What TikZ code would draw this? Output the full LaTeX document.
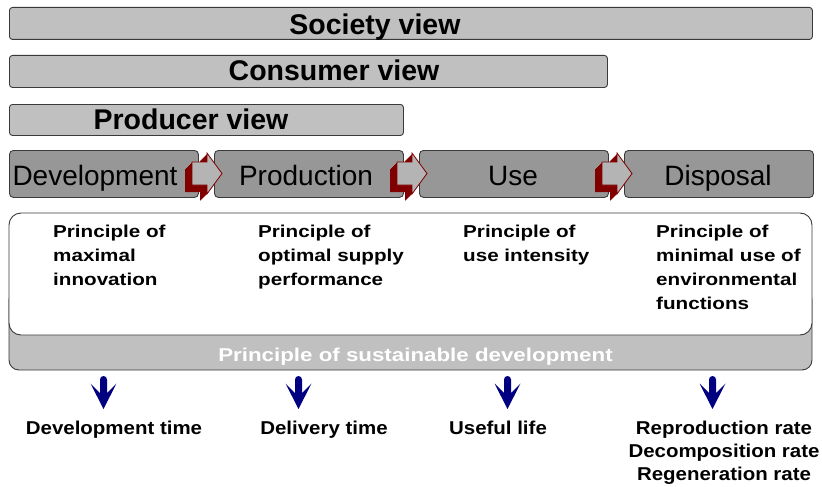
\documentclass[tikz,border=0pt]{standalone}
\usepackage{fontspec}
\setmainfont{Liberation Sans}
\newfontfamily\widefont[FakeStretch=1.2]{Liberation Sans}
\newfontfamily\semiwidefont[FakeStretch=1.1]{Liberation Sans}
\definecolor{viewgray}{HTML}{C0C0C0}
\definecolor{phasegray}{HTML}{979797}
\definecolor{arrowface}{HTML}{B4B4B4}
\definecolor{outl}{HTML}{3A3A3A}
\definecolor{dred}{HTML}{800000}
\definecolor{navyb}{HTML}{000080}
\tikzset{
  viewbox/.style={draw=outl, fill=viewgray, rounded corners=3pt, line width=0.9pt, anchor=north west, inner sep=0pt},
  phasebox/.style={draw=outl, fill=phasegray, rounded corners=4pt, line width=0.9pt, anchor=north west, inner sep=0pt},
  viewtext/.style={anchor=base, inner sep=0pt, font=\fontsize{28.5}{34}\selectfont\bfseries},
  phasetext/.style={anchor=base, inner sep=0pt, font=\fontsize{28}{34}\selectfont},
  principle/.style={anchor=north west, inner sep=0pt, align=left, font=\widefont\fontsize{17.2}{24}\selectfont\bfseries},
  bandtext/.style={anchor=base, inner sep=0pt, text=white, font=\widefont\fontsize{18.6}{24}\selectfont\bfseries},
  measure/.style={anchor=north, inner sep=0pt, align=center, font=\semiwidefont\fontsize{18.6}{23}\selectfont\bfseries},
}
\begin{document}
\begin{tikzpicture}[x=1pt,y=-1pt]
\useasboundingbox (0,0) rectangle (822,487);

% view bars
\node[viewbox, minimum width=803pt, minimum height=32pt] (society) at (9,7) {};
\node[viewbox, minimum width=598pt, minimum height=32pt] (consumer) at (9,55) {};
\node[viewbox, minimum width=394pt, minimum height=31pt] (producer) at (9,104) {};
\node[viewtext] (societyt) at (375,35) {Society view};
\node[viewtext] (consumert) at (334,81) {Consumer view};
\node[viewtext] (producert) at (191,129) {Producer view};

% phase boxes
\node[phasebox, minimum width=189pt, minimum height=47pt] (dev) at (9,150) {};
\node[phasebox, minimum width=189pt, minimum height=47pt] (prod) at (214,150) {};
\node[phasebox, minimum width=189pt, minimum height=47pt] (use) at (419,150) {};
\node[phasebox, minimum width=189pt, minimum height=47pt] (disp) at (624,150) {};
\node[phasetext] (devt) at (95,185) {Development};
\node[phasetext] (prodt) at (306,185) {Production};
\node[phasetext] (uset) at (513,185) {Use};
\node[phasetext] (dispt) at (718,185) {Disposal};

% 3D block arrows
\foreach \xo in {192,397,602}{
  \foreach \s in {1,...,7}{
    \fill[dred] ({\xo-\s},{162+\s}) -- ({\xo+15-\s},{162+\s}) -- ({\xo+15-\s},{153+\s})
      -- ({\xo+30-\s},{173.5+\s}) -- ({\xo+15-\s},{194+\s}) -- ({\xo+15-\s},{185+\s})
      -- ({\xo-\s},{185+\s}) -- cycle;
  }
  \filldraw[fill=arrowface, draw=dred, line width=0.8pt, line join=miter]
    (\xo,162) -- ({\xo+15},162) -- ({\xo+15},153) -- ({\xo+30},173.5) -- ({\xo+15},194) -- ({\xo+15},185) -- (\xo,185) -- cycle;
}

% principle area
\draw[draw=outl, fill=viewgray, line width=0.9pt, rounded corners=10pt] (9,290) rectangle (812,370);
\draw[draw=outl, fill=white, line width=0.9pt, rounded corners=12pt] (9,213) rectangle (812,335);
\node[principle] (p1) at (53,225) {Principle of\\maximal\\innovation};
\node[principle] (p2) at (258,225) {Principle of\\optimal supply\\performance};
\node[principle] (p3) at (463,225) {Principle of\\use intensity};
\node[principle] (p4) at (656,225) {Principle of\\minimal use of\\environmental\\functions};
\node[bandtext] (band) at (415.5,361) {Principle of sustainable development};

% blue down arrows
\foreach \c in {103.5,298.5,507.5,712.5}{
  \fill[navyb] ({\c-3.5},393) -- ({\c-13},383.5) -- (\c,409) -- ({\c+13},383.5) -- ({\c+3.5},393)
    -- ({\c+3.5},379.5) arc[start angle=0, end angle=-180, radius=3.5] -- cycle;
}

% measures
\node[measure] (m1) at (114,420.7) {Development time};
\node[measure] (m2) at (324,420.7) {Delivery time};
\node[measure] (m3) at (498,420.7) {Useful life};
\node[measure] (m4) at (724,420.7) {Reproduction rate\\Decomposition rate\\Regeneration rate};
\end{tikzpicture}
\end{document}
